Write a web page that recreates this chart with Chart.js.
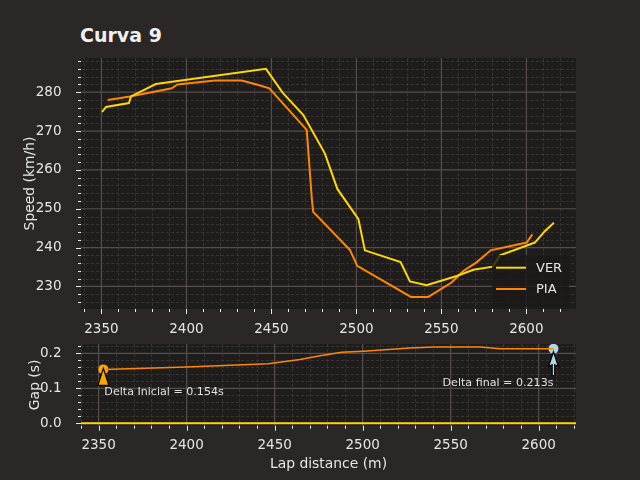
<!DOCTYPE html>
<html>
<head>
<meta charset="utf-8">
<script src="https://cdn.jsdelivr.net/npm/chart.js@4.4.1/dist/chart.umd.min.js"></script>
<style>
  html, body { margin: 0; padding: 0; background: #2a2726; }
  #wrap { position: relative; width: 640px; height: 480px; overflow: hidden; }
  #title { position: absolute; left: 80px; top: 24px; font: bold 19px "DejaVu Sans", sans-serif; color: #f0f0f0; }
  #speedBox { position: absolute; left: 0; top: 0; }
  #gapBox { position: absolute; left: 0; top: 320px; }
</style>
</head>
<body>
<div id="wrap">
  <div id="title">Curva 9</div>
  <div id="speedBox"><canvas id="speedChart" width="640" height="340"></canvas></div>
  <div id="gapBox"><canvas id="gapChart" width="640" height="160"></canvas></div>
</div>
<script>
// --- data ---
const verDist  = [2350.4, 2352.7, 2366.2, 2367.4, 2382.0, 2446.8, 2456.6, 2468.8, 2481.5, 2488.8, 2501.2, 2505.0, 2526.0, 2531.5, 2541.3, 2559.0, 2568.8, 2580.2, 2584.5, 2605.0, 2611.0, 2616.2];
const verSpeed = [274.9, 276.2, 277.2, 278.9, 282.1, 286.0, 279.9, 274.1, 264.2, 255.1, 247.3, 239.3, 236.3, 231.3, 230.3, 232.7, 234.3, 235.1, 238.0, 241.3, 244.3, 246.4];

const piaDist  = [2353.7, 2366.8, 2391.4, 2394.7, 2416.8, 2432.5, 2441.4, 2448.8, 2470.8, 2473.8, 2474.6, 2496.2, 2500.5, 2532.1, 2542.3, 2556.0, 2562.9, 2570.7, 2579.0, 2600.2, 2603.5];
const piaSpeed = [278.0, 278.9, 281.0, 282.0, 283.0, 283.0, 282.0, 281.0, 270.3, 252.5, 249.2, 239.4, 235.3, 227.3, 227.3, 231.0, 234.0, 236.2, 239.3, 241.3, 243.4];

const gapDist = [2352.7, 2400.0, 2446.4, 2464.4, 2475.8, 2488.1, 2500.4, 2526.9, 2540.2, 2566.7, 2578.0, 2608.4];
const gapVals = [0.154, 0.161, 0.170, 0.182, 0.193, 0.203, 0.206, 0.215, 0.218, 0.218, 0.213, 0.213];

const refDist = [2300, 2700];
const refGap  = [0, 0];

const gapStart = { x: 2352.7, y: 0.154 };
const gapEnd   = { x: 2608.4, y: 0.213 };

const speedXTicks = [2350, 2400, 2450, 2500, 2550, 2600];
const speedYTicks = [230, 240, 250, 260, 270, 280];
const gapXTicks   = [2350, 2400, 2450, 2500, 2550, 2600];
const gapYTicks   = [0.0, 0.1, 0.2];

const drivers = ['VER', 'PIA'];

// --- style ---
const FONT = '"DejaVu Sans", sans-serif';
const TEXT = '#e6e6e6';
const PLOT_BG = '#1f1d1c';
const MAJOR_GRID = '#564e4c';
const MINOR_GRID = '#3c3836';
const VER_COLOR = '#ffd700';
const PIA_COLOR = '#ff8700';

function pts(xs, ys) {
  return xs.map((x, i) => ({ x, y: ys[i] }));
}

function fixTicks(values) {
  return scale => { scale.ticks = values.map(v => ({ value: v })); };
}

function minorValues(scale, step) {
  const out = [];
  const majors = scale.ticks.map(t => t.value);
  let v = Math.ceil(scale.min / step - 1e-9) * step;
  for (; v <= scale.max + 1e-9; v += step) {
    const r = Math.round(v / step) * step;
    if (majors.some(m => Math.abs(m - r) < step / 10)) continue;
    out.push(r);
  }
  return out;
}

// matplotlib-like frame: background, dashed minor grid, solid major grid, outside ticks
const mplFrame = {
  id: 'mplFrame',
  beforeDatasetsDraw(chart, args, opts) {
    const { ctx, chartArea: a, scales: { x, y } } = chart;
    ctx.save();
    ctx.fillStyle = PLOT_BG;
    ctx.fillRect(a.left, a.top, a.right - a.left, a.bottom - a.top);
    ctx.beginPath();
    ctx.rect(a.left, a.top, a.right - a.left, a.bottom - a.top);
    ctx.clip();

    ctx.strokeStyle = MINOR_GRID;
    ctx.lineWidth = 0.8;
    ctx.setLineDash([3, 2]);
    for (const v of minorValues(x, opts.xMinor)) {
      const px = Math.round(x.getPixelForValue(v)) + 0.5;
      ctx.beginPath(); ctx.moveTo(px, a.top); ctx.lineTo(px, a.bottom); ctx.stroke();
    }
    for (const v of minorValues(y, opts.yMinor)) {
      const py = Math.round(y.getPixelForValue(v)) + 0.5;
      ctx.beginPath(); ctx.moveTo(a.left, py); ctx.lineTo(a.right, py); ctx.stroke();
    }

    ctx.setLineDash([]);
    ctx.strokeStyle = MAJOR_GRID;
    ctx.lineWidth = 1.2;
    for (const t of x.ticks) {
      const px = x.getPixelForValue(t.value);
      ctx.beginPath(); ctx.moveTo(px, a.top); ctx.lineTo(px, a.bottom); ctx.stroke();
    }
    for (const t of y.ticks) {
      const py = y.getPixelForValue(t.value);
      ctx.beginPath(); ctx.moveTo(a.left, py); ctx.lineTo(a.right, py); ctx.stroke();
    }
    ctx.restore();
  },
  afterDraw(chart, args, opts) {
    const { ctx, chartArea: a, scales: { x, y } } = chart;
    ctx.save();
    ctx.strokeStyle = TEXT;
    ctx.lineWidth = 1;
    for (const t of x.ticks) {
      const px = Math.round(x.getPixelForValue(t.value)) + 0.5;
      ctx.beginPath(); ctx.moveTo(px, a.bottom); ctx.lineTo(px, a.bottom + 5); ctx.stroke();
    }
    for (const v of minorValues(x, opts.xMinor)) {
      const px = Math.round(x.getPixelForValue(v)) + 0.5;
      ctx.beginPath(); ctx.moveTo(px, a.bottom); ctx.lineTo(px, a.bottom + 3); ctx.stroke();
    }
    for (const t of y.ticks) {
      const py = Math.round(y.getPixelForValue(t.value)) + 0.5;
      ctx.beginPath(); ctx.moveTo(a.left, py); ctx.lineTo(a.left - 5, py); ctx.stroke();
    }
    for (const v of minorValues(y, opts.yMinor)) {
      const py = Math.round(y.getPixelForValue(v)) + 0.5;
      ctx.beginPath(); ctx.moveTo(a.left, py); ctx.lineTo(a.left - 3, py); ctx.stroke();
    }
    ctx.restore();
  }
};

// legend box in the lower right of the speed panel
const cornerLegend = {
  id: 'cornerLegend',
  afterDatasetsDraw(chart) {
    const { ctx, chartArea: a } = chart;
    const w = 77, h = 52;
    const left = a.right - w - 7, top = a.bottom - h - 2;
    ctx.save();
    ctx.fillStyle = 'rgba(27,26,25,0.82)';
    ctx.fillRect(left, top, w, h);
    ctx.font = '13px ' + FONT;
    ctx.textBaseline = 'middle';
    chart.data.datasets.forEach((ds, i) => {
      const yy = top + 12.7 + i * 21.3;
      ctx.strokeStyle = ds.borderColor;
      ctx.lineWidth = 2;
      ctx.beginPath(); ctx.moveTo(left + 4, yy); ctx.lineTo(left + 34, yy); ctx.stroke();
      ctx.fillStyle = TEXT;
      ctx.fillText(ds.label, left + 44, yy + 1);
    });
    ctx.restore();
  }
};

// arrows and notes for the start / end gap
const gapNotes = {
  id: 'gapNotes',
  afterDatasetsDraw(chart) {
    const { ctx, scales: { x, y } } = chart;
    const sx = x.getPixelForValue(gapStart.x), sy = y.getPixelForValue(gapStart.y);
    const ex = x.getPixelForValue(gapEnd.x), ey = y.getPixelForValue(gapEnd.y);
    ctx.save();
    ctx.lineJoin = 'miter';
    // start: filled orange wedge
    ctx.fillStyle = '#ffa500';
    ctx.strokeStyle = '#000';
    ctx.lineWidth = 1.2;
    ctx.beginPath();
    ctx.moveTo(sx, sy - 1);
    ctx.lineTo(sx + 5.5, sy + 16);
    ctx.lineTo(sx - 5.5, sy + 16);
    ctx.closePath();
    ctx.fill(); ctx.stroke();
    // end: light blue arrow
    ctx.fillStyle = '#add8e6';
    ctx.beginPath();
    ctx.moveTo(ex, ey + 3);
    ctx.lineTo(ex + 5, ey + 18);
    ctx.lineTo(ex + 1.3, ey + 16);
    ctx.lineTo(ex + 1.3, ey + 27);
    ctx.lineTo(ex - 1.3, ey + 27);
    ctx.lineTo(ex - 1.3, ey + 16);
    ctx.lineTo(ex - 5, ey + 18);
    ctx.closePath();
    ctx.fill(); ctx.stroke();
    // notes
    ctx.fillStyle = '#e0e0e0';
    ctx.font = '11.1px ' + FONT;
    ctx.textBaseline = 'middle';
    ctx.textAlign = 'left';
    ctx.fillText('Delta Inicial = ' + gapStart.y.toFixed(3) + 's', sx + 1, sy + 23);
    ctx.textAlign = 'right';
    ctx.fillText('Delta final = ' + gapEnd.y.toFixed(3) + 's', ex, ey + 34);
    ctx.restore();
  }
};

const tickFont = { family: FONT, size: 13.5 };
const titleFont = { family: FONT, size: 13.9 };

new Chart(document.getElementById('speedChart'), {
  type: 'line',
  data: {
    datasets: [
      { label: drivers[0], data: pts(verDist, verSpeed), borderColor: VER_COLOR, borderWidth: 2, pointRadius: 0, tension: 0 },
      { label: drivers[1], data: pts(piaDist, piaSpeed), borderColor: PIA_COLOR, borderWidth: 2, pointRadius: 0, tension: 0 }
    ]
  },
  options: {
    responsive: false,
    animation: false,
    layout: { padding: { top: 58, right: 64, left: 0, bottom: 0 } },
    plugins: {
      legend: { display: false },
      tooltip: { enabled: false },
      mplFrame: { xMinor: 10, yMinor: 2 }
    },
    scales: {
      x: {
        type: 'linear', min: 2338, max: 2629.2,
        afterBuildTicks: fixTicks(speedXTicks),
        afterFit: s => { s.height = 31; },
        grid: { display: false }, border: { display: false },
        ticks: { color: TEXT, font: tickFont, padding: 4, maxRotation: 0, autoSkip: false, callback: v => String(v) }
      },
      y: {
        min: 224.2, max: 288.8,
        afterBuildTicks: fixTicks(speedYTicks),
        afterFit: s => { s.width = 81; },
        grid: { display: false }, border: { display: false },
        ticks: { color: TEXT, font: tickFont, padding: 11.5, autoSkip: false, callback: v => String(v) },
        title: { display: true, text: 'Speed (km/h)', color: TEXT, font: titleFont, padding: { top: 21.7 } }
      }
    }
  },
  plugins: [mplFrame, cornerLegend]
});

new Chart(document.getElementById('gapChart'), {
  type: 'line',
  data: {
    datasets: [
      { label: 'gap', data: pts(gapDist, gapVals), borderColor: PIA_COLOR, borderWidth: 1.5, pointRadius: 0, tension: 0 },
      { label: 'ref', data: pts(refDist, refGap), borderColor: VER_COLOR, borderWidth: 2, pointRadius: 0, tension: 0 },
      { label: 'start', data: [gapStart], showLine: false, pointRadius: 5, pointBackgroundColor: '#ffa500', pointBorderColor: '#ffa500', pointBorderWidth: 0 },
      { label: 'end', data: [gapEnd], showLine: false, pointRadius: 5, pointBackgroundColor: '#add8e6', pointBorderColor: '#add8e6', pointBorderWidth: 0 }
    ]
  },
  options: {
    responsive: false,
    animation: false,
    layout: { padding: { top: 24, right: 64, left: 0, bottom: 0 } },
    plugins: {
      legend: { display: false },
      tooltip: { enabled: false },
      mplFrame: { xMinor: 10, yMinor: 0.02 }
    },
    scales: {
      x: {
        type: 'linear', min: 2340, max: 2621.2,
        afterBuildTicks: fixTicks(gapXTicks),
        afterFit: s => { s.height = 54.3; },
        grid: { display: false }, border: { display: false },
        ticks: { color: TEXT, font: tickFont, padding: 4, maxRotation: 0, autoSkip: false, callback: v => String(v) },
        title: { display: true, text: 'Lap distance (m)', color: TEXT, font: titleFont, padding: { top: 0, bottom: 7.5 } }
      },
      y: {
        min: -0.007, max: 0.2266,
        afterBuildTicks: fixTicks(gapYTicks),
        afterFit: s => { s.width = 81; },
        grid: { display: false }, border: { display: false },
        ticks: { color: TEXT, font: tickFont, padding: 11.5, autoSkip: false, callback: v => v.toFixed(1) },
        title: { display: true, text: 'Gap (s)', color: TEXT, font: titleFont, padding: { top: 26.7 } }
      }
    }
  },
  plugins: [mplFrame, gapNotes]
});
</script>
</body>
</html>
